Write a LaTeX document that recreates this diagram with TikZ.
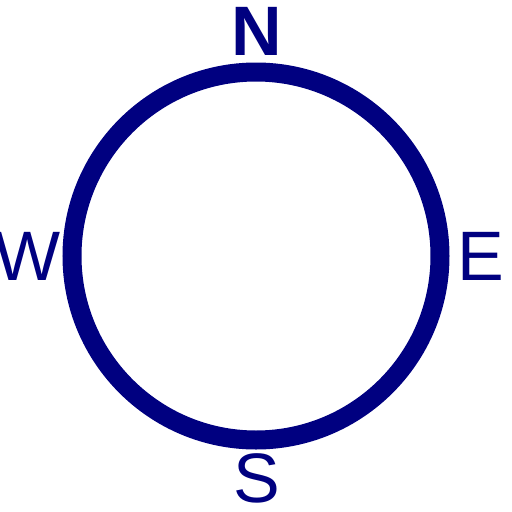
\documentclass[tikz,border=0pt]{standalone}
\usepackage{fontspec}
\setmainfont{Liberation Sans}
\definecolor{navyc}{RGB}{0,0,128}
\begin{document}
\begin{tikzpicture}[x=1pt,y=-1pt,
  lbl/.style={text=navyc,inner sep=0pt,outer sep=0pt,font=\fontsize{70}{84}\selectfont}]
\useasboundingbox (0,0) rectangle (512,512);
\node[draw=navyc,line width=19pt,circle,minimum size=368pt,inner sep=0pt] (ring) at (256,256) {};
\node[lbl,font=\fontsize{70}{84}\selectfont\bfseries,anchor=base] (n) at (256.5,55) {N};
\node[lbl,anchor=base] (s) at (256.5,502) {S};
\node[lbl,anchor=base east] (w) at (60.5,280) {W};
\node[lbl,anchor=base west] (e) at (457.6,280) {E};
\end{tikzpicture}
\end{document}
